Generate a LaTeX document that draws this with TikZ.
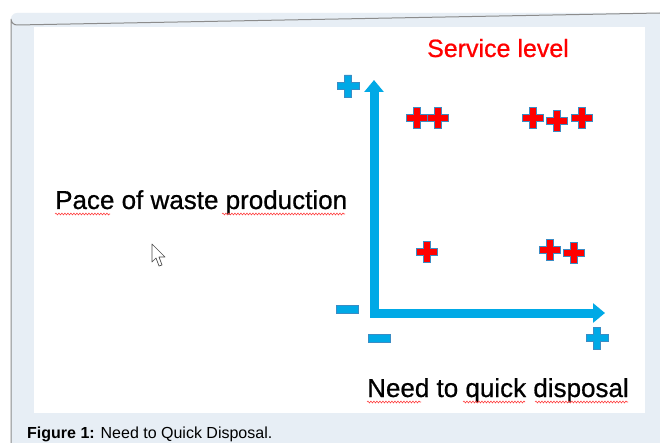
\documentclass[tikz,border=0pt]{standalone}
\usepackage{fontspec}
\setmainfont{Liberation Sans}
\newfontfamily\heavysans[FakeBold=0.7]{Liberation Sans}
\usepackage{xcolor}
\usepackage{tikz}
\usetikzlibrary{positioning}
\usetikzlibrary{arrows.meta}
\usetikzlibrary{decorations.pathmorphing}

\definecolor{axisblue}{HTML}{00A9E6}
\definecolor{edgeblue}{HTML}{3A8CC4}
\definecolor{framebg}{HTML}{E7EEF5}
\definecolor{framegray}{HTML}{8C8C8C}

\tikzset{
  crossmark/.pic={
    \path[pic actions] (-0.33,-1) -- (0.33,-1) -- (0.33,-0.33) -- (1,-0.33) -- (1,0.33) -- (0.33,0.33)
      -- (0.33,1) -- (-0.33,1) -- (-0.33,0.33) -- (-1,0.33) -- (-1,-0.33) -- (-0.33,-0.33) -- cycle;
  }
}

\begin{document}
\begin{tikzpicture}[x=1pt, y=-1pt,
    axislabel/.style={inner sep=0pt, font=\heavysans\fontsize{26}{30}\selectfont},
    redplus/.style={fill=red, draw=edgeblue, line width=0.7pt, scale=10.5},
    blueplus/.style={fill=axisblue, draw=edgeblue, line width=0.4pt, scale=11},
    blueminus/.style={fill=axisblue, draw=edgeblue, line width=0.4pt},
    axis/.style={draw=axisblue, line width=9pt, line join=miter,
      {Triangle[width=19pt,length=12pt]}-{Triangle[width=19pt,length=12pt]}},
    squiggle/.style={draw=red!75, line width=0.6pt, decorate,
      decoration={snake, amplitude=0.9pt, segment length=3pt}}
  ]
  \useasboundingbox (0,0) rectangle (660,443);
  \fill[white] (0,0) rectangle (660,443);

  % frame and figure area
  \fill[framebg, rounded corners=6pt] (11,13) rectangle (680,463);
  \draw[framegray, line width=1pt] (11,443) -- (11,19) arc[start angle=180, end angle=90, radius=6] -- (660,13);
  \fill[white] (34,27) rectangle (645,413);

  % axes
  \coordinate (ytop) at (374,80);
  \coordinate (origin) at (374,313);
  \coordinate (xend) at (605,313);
  \draw[axis] (ytop) -- (origin) -- (xend);

  % axis signs
  \pic[blueplus] at (348,86) {crossmark};
  \pic[blueplus] at (597,338) {crossmark};
  \draw[blueminus] (336,305) rectangle (358,313);
  \draw[blueminus] (368,334) rectangle (390,342);

  % service level marks
  \foreach \px/\py in {417/118, 438/118, 533/118, 557/121, 582/118, 427/252, 550/250, 574/253} {
    \pic[redplus] at (\px,\py) {crossmark};
  }

  % texts
  \node[axislabel, text=red, font=\heavysans\fontsize{25}{30}\selectfont, anchor=base] (service) at (498,57) {Service level};
  \node[axislabel, anchor=base west] (pace) at (55,209) {Pace of waste production};
  \node[axislabel, anchor=base west] (need) at (367,397) {Need to quick disposal};
  \node[inner sep=0pt, anchor=base west, font=\fontsize{16}{19}\selectfont] (caption) at (27,438) {\textbf{Figure 1:} Need to Quick Disposal.};

  % spell check underlines
  \draw[squiggle] (55,214) -- (110,214);
  \draw[squiggle] (222,214) -- (345,214);
  \draw[squiggle] (367,402) -- (421,402);
  \draw[squiggle] (463,402) -- (525,402);
  \draw[squiggle] (535,402) -- (628,402);

  % mouse pointer
  \draw[fill=white, draw=black!70, line width=0.7pt, line join=round]
    (152,244) -- (152,262) -- (156,258) -- (159,266) -- (162,265) -- (159,257) -- (165,257) -- cycle;
\end{tikzpicture}
\end{document}
